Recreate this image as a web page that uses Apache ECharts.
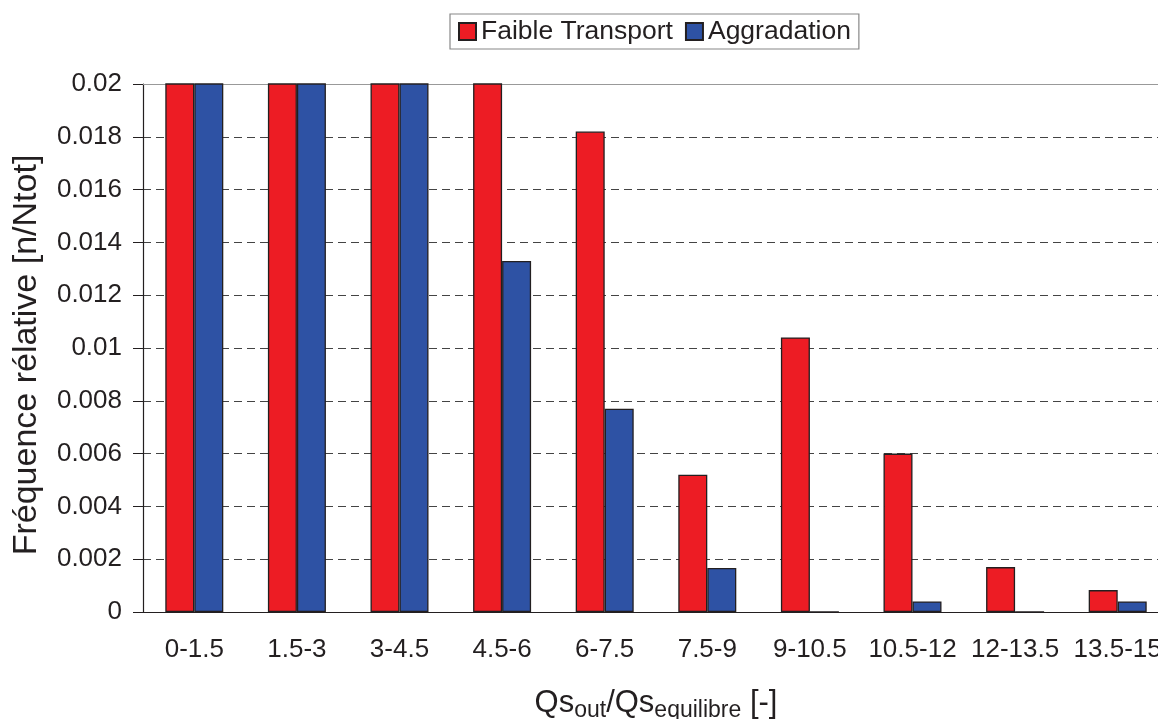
<!DOCTYPE html>
<html><head><meta charset="utf-8">
<script src="https://cdn.jsdelivr.net/npm/echarts@6/dist/echarts.min.js"></script>
<style>html,body{margin:0;padding:0;background:#fff;overflow:hidden}#c{width:1158px;height:719px}</style>
</head><body><div id="c"></div>
<script>
const categories = ['0-1.5','1.5-3','3-4.5','4.5-6','6-7.5','7.5-9','9-10.5','10.5-12','12-13.5','13.5-15'];
const faibleTransport = [0.03, 0.03, 0.03, 0.025, 0.0182, 0.0052, 0.0104, 0.0060, 0.0017, 0.00083];
const aggradation = [0.03, 0.03, 0.03, 0.0133, 0.0077, 0.00167, 0, 0.0004, 0, 0.0004];
const yTicks = {min: 0, max: 0.02, interval: 0.002};

const chart = echarts.init(document.getElementById('c'));
const txt = '#231f20';
const ff = 'Liberation Sans, Arial, sans-serif';
chart.setOption({
  animation: false,
  textStyle: {fontFamily: ff},
  legend: {
    left: 450, top: 14, padding: [4, 8, 4, 8],
    borderColor: '#888', borderWidth: 1.2,
    icon: 'rect',
    itemWidth: 17, itemHeight: 17, itemGap: 12,
    textStyle: {fontSize: 26.5, color: txt},
    data: ['Faible Transport', 'Aggradation']
  },
  grid: {left: 143, width: 1026, top: 84, bottom: 107, outerBoundsMode: 'none', containLabel: false},
  xAxis: [{
    type: 'category', data: categories,
    axisLine: {lineStyle: {color: txt, width: 1.2}},
    axisTick: {length: 10, lineStyle: {color: txt}},
    axisLabel: {fontSize: 26, color: txt, margin: 25, interval: 0},
    name: '{a|Qs}{b|out}{a|/Qs}{b|equilibre}{a| [-]}',
    nameLocation: 'middle', nameGap: 71,
    nameTextStyle: {
      rich: {
        a: {fontSize: 31, color: txt, lineHeight: 40, fontFamily: ff},
        b: {fontSize: 23, color: txt, lineHeight: 40, padding: [16, 0, 0, 0], fontFamily: ff}
      }
    }
  }, {
    type: 'category', data: categories, position: 'top',
    axisLine: {lineStyle: {color: '#999', width: 1.2}},
    axisTick: {show: false}, axisLabel: {show: false}
  }],
  yAxis: {
    type: 'value', min: yTicks.min, max: yTicks.max, interval: yTicks.interval,
    axisLine: {show: true, lineStyle: {color: txt, width: 1.2}},
    axisTick: {show: true, length: 10, lineStyle: {color: txt}},
    axisLabel: {fontSize: 26, color: txt, margin: 21, formatter: v => v === 0 ? '0' : String(+v.toFixed(3))},
    splitLine: {show: true, lineStyle: {color: '#444', type: [8, 5], width: 1}},
    name: 'Fréquence rélative [n/Ntot]', nameLocation: 'middle', nameGap: 99,
    nameTextStyle: {fontSize: 34, color: txt, padding: [0, 14, 0, 0]}
  },
  series: [{
    name: 'Faible Transport', type: 'bar', data: faibleTransport,
    barWidth: 29, barGap: '0%',
    itemStyle: {color: '#ed1c24', borderColor: txt, borderWidth: 1.3}
  }, {
    name: 'Aggradation', type: 'bar', data: aggradation,
    barWidth: 29, barGap: '0%',
    itemStyle: {color: '#2e52a4', borderColor: txt, borderWidth: 1.3}
  }]
});
</script></body></html>
